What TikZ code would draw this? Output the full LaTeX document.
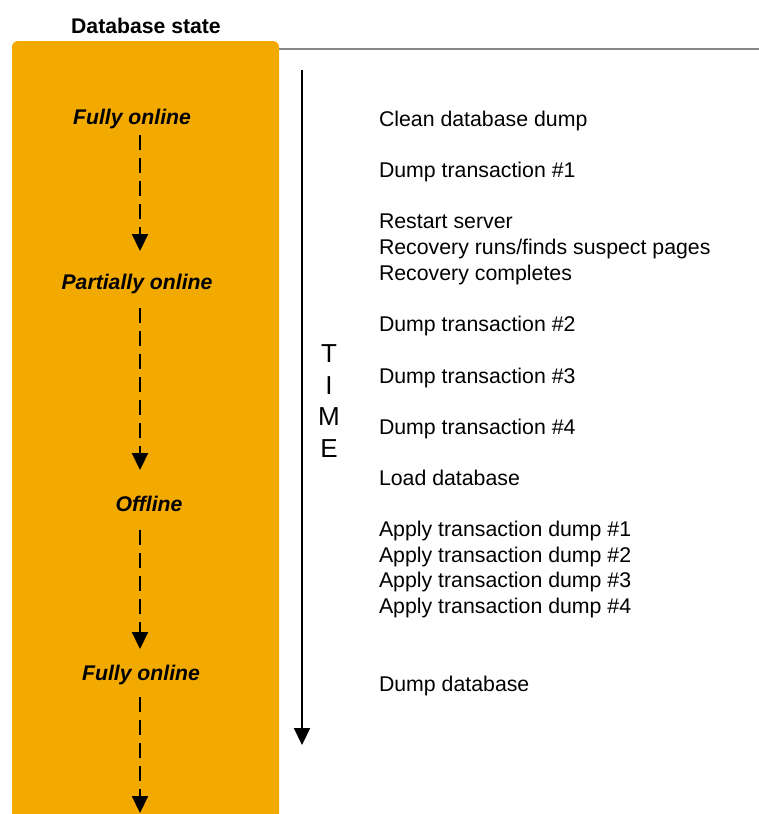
\documentclass[tikz,border=0pt]{standalone}
\usepackage{fontspec}
\setmainfont{Liberation Sans}
\usetikzlibrary{arrows.meta}
\definecolor{gold}{RGB}{242,169,0}
\definecolor{rulegray}{RGB}{136,136,136}
\begin{document}
\begin{tikzpicture}[x=1pt,y=-1pt,
  every node/.style={inner sep=0pt,outer sep=0pt},
  label/.style={anchor=base west,font=\fontsize{21.3}{25.5}\selectfont},
  state/.style={anchor=base,font=\fontsize{21.2}{25.5}\selectfont\bfseries\itshape},
  flow/.style={dash pattern=on 15pt off 8pt,line width=2.2pt,-{Triangle[width=16pt,length=17pt]}},
  timearrow/.style={line width=2.2pt,-{Triangle[width=16pt,length=17pt]}}]
\useasboundingbox (0,0) rectangle (759,814);
% box
\fill[gold,rounded corners=6pt] (12,840) -- (12,41) -- (279,41) -- (279,840) -- cycle;
\draw[rulegray,line width=2.5pt] (279,49) -- (759,49);
\node[anchor=base,font=\fontsize{21.2}{25.5}\selectfont\bfseries] (title) at (146,33) {Database state};
% states
\node[state] (s1) at (132,124) {Fully online};
\node[state] (s2) at (137,289) {Partially online};
\node[state] (s3) at (149,511) {Offline};
\node[state] (s4) at (141,680) {Fully online};
\coordinate (a1s) at (140,135); \coordinate (a1e) at (140,251);
\coordinate (a2s) at (140,308); \coordinate (a2e) at (140,470);
\coordinate (a3s) at (140,530); \coordinate (a3e) at (140,649);
\coordinate (a4s) at (140,697); \coordinate (a4e) at (140,813);
\draw[flow] (a1s) -- (a1e);
\draw[flow] (a2s) -- (a2e);
\draw[flow] (a3s) -- (a3e);
\draw[flow] (a4s) -- (a4e);
% time
\coordinate (t0) at (302,70); \coordinate (t1) at (302,745);
\draw[timearrow] (t0) -- (t1);
\node[align=center,font=\fontsize{26}{31.5}\selectfont] (time) at (329,401) {T\\I\\M\\E};
% events
\node[label] (e1) at (379,126.5) {Clean database dump};
\node[label] (e2) at (379,177.5) {Dump transaction \#1};
\node[label] (e3) at (379,228.5) {Restart server};
\node[label] (e4) at (379,254.5) {Recovery runs/finds suspect pages};
\node[label] (e5) at (379,280.5) {Recovery completes};
\node[label] (e6) at (379,331.5) {Dump transaction \#2};
\node[label] (e7) at (379,383.5) {Dump transaction \#3};
\node[label] (e8) at (379,434.5) {Dump transaction \#4};
\node[label] (e9) at (379,485.5) {Load database};
\node[label] (e10) at (379,536.5) {Apply transaction dump \#1};
\node[label] (e11) at (379,562.5) {Apply transaction dump \#2};
\node[label] (e12) at (379,587.5) {Apply transaction dump \#3};
\node[label] (e13) at (379,613.5) {Apply transaction dump \#4};
\node[label] (e14) at (379,691.5) {Dump database};
\end{tikzpicture}
\end{document}
